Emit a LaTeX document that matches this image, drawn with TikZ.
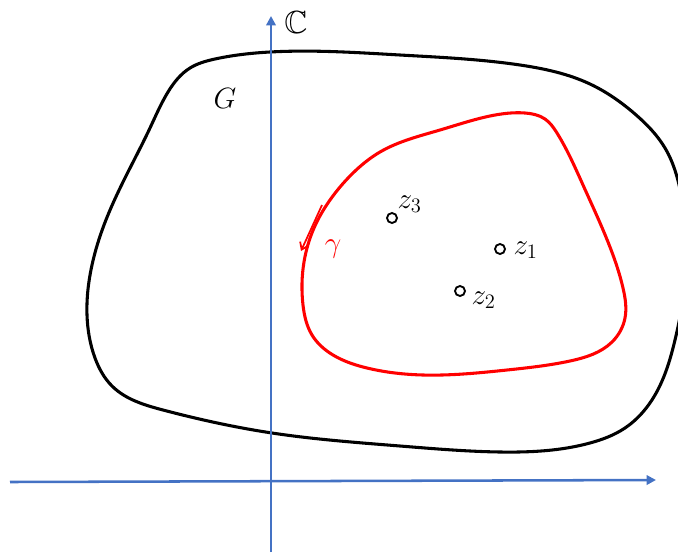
\documentclass[tikz,border=0pt]{standalone}
\usepackage{amssymb}
\usepackage{fix-cm}
\usetikzlibrary{arrows.meta,hobby}
\newcommand{\labfont}{\fontsize{22}{26}\selectfont}
\begin{document}
\begin{tikzpicture}[x=0.75pt,y=-0.75pt,
  axis/.style={draw={rgb,255:red,68;green,114;blue,196},line width=1.9pt,-{Triangle[length=7pt,width=7pt]}},
  region/.style={draw=black,line width=2.3pt},
  contour/.style={draw=red,line width=2.3pt},
  pt/.style={circle,draw=black,line width=1.4pt,minimum size=7.5pt,inner sep=0pt},
  lab/.style={inner sep=1pt}]
\useasboundingbox (0,0) rectangle (678,554);
% region G
\draw[region,use Hobby shortcut,closed=true]
 (270,52) .. (400,55) .. (520,65) .. (590,84) .. (635,114) .. (665,148) .. (682,200)
 .. (686,270) .. (675,340) .. (655,395) .. (625,428) .. (590,443) .. (500,452)
 .. (400,446) .. (272,433) .. (163,410) .. (112,386) .. (95,358) .. (87,315)
 .. (92,265) .. (104,225) .. (125,178) .. (150,128) .. (168,92) .. (190,68)
 .. (215,59);
% contour gamma
\draw[contour,use Hobby shortcut,closed=true]
 (380,152) .. (440,130) .. (490,116) .. (525,113) .. (545,119) .. (557,133)
 .. (583,185) .. (608,242) .. (623,288) .. (625,318) .. (612,342) .. (570,361)
 .. (507,370) .. (423,375) .. (367,368) .. (333,355) .. (312,335) .. (303,305)
 .. (304,262) .. (314,228) .. (330,200) .. (352,174);
% axes
\coordinate (xs) at (10,482); \coordinate (xe) at (656,480);
\coordinate (ys) at (271,552); \coordinate (ye) at (271,16);
\draw[axis] (xs) -- (xe);
\draw[axis] (ys) -- (ye);
\node[lab] (C) at (296,22) {\fontsize{24}{28}\selectfont$\mathbb{C}$};
\node[lab] (G) at (225,98) {\fontsize{22}{26}\selectfont$G$};
% points
\node[pt] (z3) at (392,218) {};
\node[pt] (z1) at (500,249) {};
\node[pt] (z2) at (460,291) {};
\node[lab,anchor=west] (l3) at (396,204) {\labfont$z_3$};
\node[lab,anchor=west] (l1) at (512,250) {\labfont$z_1$};
\node[lab,anchor=west] (l2) at (470,300) {\labfont$z_2$};
% orientation arrow
\coordinate (a1) at (322,205); \coordinate (a2) at (301,251);
\draw[red,line width=1.3pt,-{Straight Barb[length=5pt,width=7pt]}] (a1) -- (a2);
\node[lab,text=red] (g) at (333,249) {\labfont$\gamma$};
\end{tikzpicture}
\end{document}
